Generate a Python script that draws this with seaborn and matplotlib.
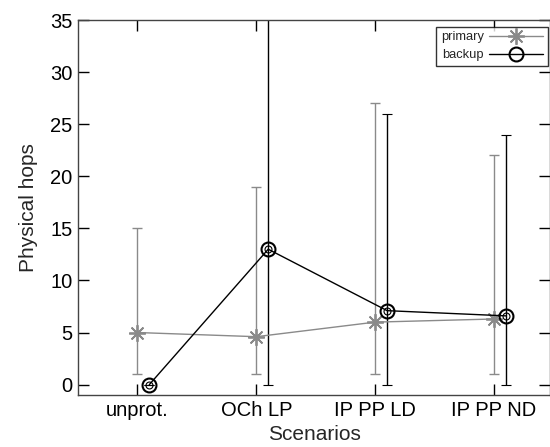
import numpy as np
import pandas as pd
import matplotlib
matplotlib.use("Agg")
import matplotlib.pyplot as plt
import seaborn as sns

# Data
scenarios = ["unprot.", "OCh LP", "IP PP LD", "IP PP ND"]
primary_mean = [5.0, 4.6, 6.0, 6.3]
primary_low = [1, 1, 1, 1]
primary_high = [15, 19, 27, 22]
backup_mean = [0.0, 13.0, 7.1, 6.6]
backup_low = [0, 0, 0, 0]
backup_high = [0, 37, 26, 24]

pos = np.arange(len(scenarios))
df = pd.DataFrame({
    "pos": np.concatenate([pos, pos + 0.1]),
    "hops": primary_mean + backup_mean,
    "kind": ["primary"] * 4 + ["backup"] * 4,
})

sns.set_style("ticks")
plt.rcParams['font.family'] = ['Liberation Sans', 'DejaVu Sans']

fig = plt.figure(figsize=(5.5, 4.47), dpi=100)
ax = fig.add_axes([0.1418, 0.1163, 0.8582, 0.8387])

gray = "#8a8a8a"

# error bars first, so markers sit on top
ax.errorbar(pos, primary_mean,
            yerr=[np.array(primary_mean) - primary_low, np.array(primary_high) - primary_mean],
            fmt="none", ecolor=gray, elinewidth=1, capsize=3.5, capthick=1)
ax.errorbar(pos + 0.1, backup_mean,
            yerr=[np.array(backup_mean) - backup_low, np.array(backup_high) - backup_mean],
            fmt="o", ms=5, mfc="none", mec="black", mew=0.8,
            ecolor="black", elinewidth=1, capsize=3.5, capthick=1)

sub = df[df.kind == "primary"]
sns.lineplot(x=sub["pos"], y=sub["hops"], ax=ax, sort=False, color=gray, lw=1,
             marker=(8, 2, 0), markersize=12, mec=gray, mew=1.3, label="primary")
sub = df[df.kind == "backup"]
sns.lineplot(x=sub["pos"], y=sub["hops"], ax=ax, sort=False, color="black", lw=1,
             marker="o", markersize=10, mfc="none", mec="black", mew=1.5, label="backup")

ax.set_xlim(-0.5, 3.47)
ax.set_ylim(-1, 35)
ax.set_xticks(pos)
ax.set_xticklabels(scenarios)
ax.set_yticks(range(0, 36, 5))
ax.tick_params(direction="in", top=True, right=True, length=8, width=1,
               labelsize=14.5, colors="black", pad=4)
for s in ax.spines.values():
    s.set_color("#444444")
    s.set_linewidth(1)
    s.set_visible(True)

ax.set_xlabel("Scenarios", fontsize=15, labelpad=4)
ax.set_ylabel("Physical hops", fontsize=15, labelpad=9)

leg = ax.legend(loc="upper right", bbox_to_anchor=(0.995, 0.982), markerfirst=False,
                fontsize=9.3, frameon=True, fancybox=False, handlelength=4.2,
                borderpad=0.35, labelspacing=0.45, handletextpad=0.4, borderaxespad=0)
leg.get_frame().set_edgecolor("black")
leg.get_frame().set_linewidth(1)

fig.savefig("out.png", dpi=100)
